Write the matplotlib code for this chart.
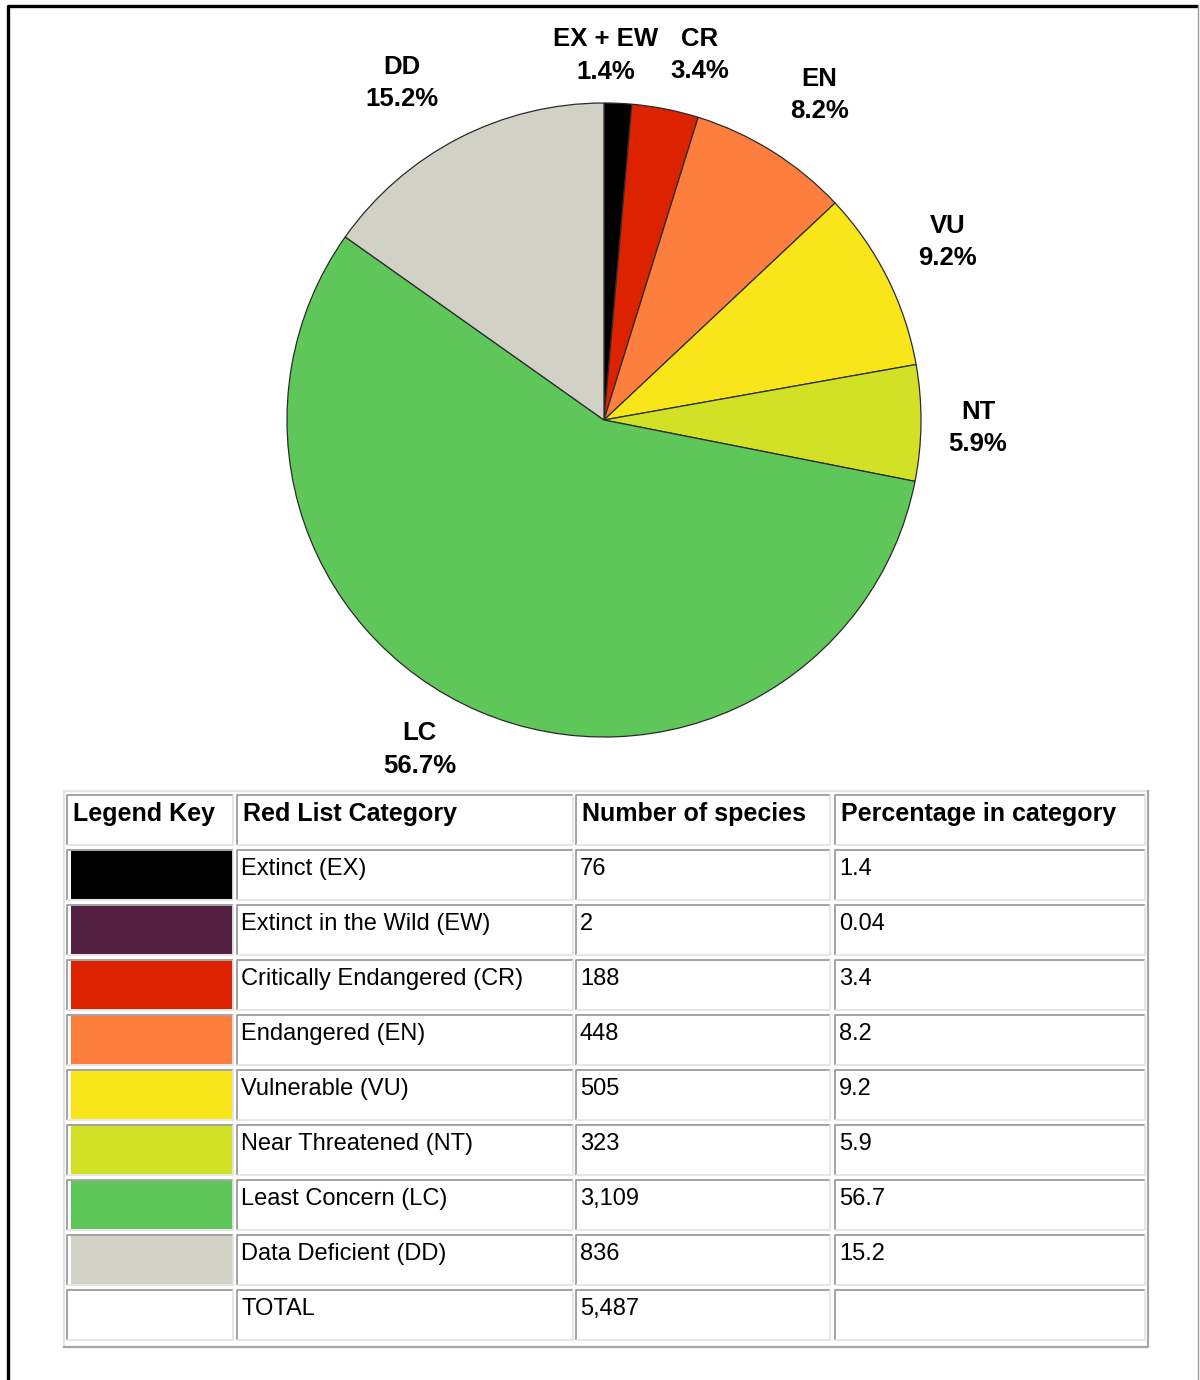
import matplotlib
matplotlib.use("Agg")
import numpy as np
import matplotlib.pyplot as plt
from matplotlib.patches import Rectangle

plt.rcParams['font.family'] = ['Liberation Sans', 'DejaVu Sans']

# pie slices (percent of assessed species)
pie_labels = ["EX + EW", "CR", "EN", "VU", "NT", "LC", "DD"]
pie_values = [1.4, 3.4, 8.2, 9.2, 5.9, 56.7, 15.2]
pie_colors = ["#000000", "#dc2200", "#fe7f3d", "#f8e61b", "#d1e226", "#5fc65a", "#d1d1c6"]

# table rows
categories = ["Extinct (EX)", "Extinct in the Wild (EW)", "Critically Endangered (CR)",
              "Endangered (EN)", "Vulnerable (VU)", "Near Threatened (NT)",
              "Least Concern (LC)", "Data Deficient (DD)"]
species_counts = [76, 2, 188, 448, 505, 323, 3109, 836]
category_pct = ["1.4", "0.04", "3.4", "8.2", "9.2", "5.9", "56.7", "15.2"]
key_colors = ["#000000", "#532142", "#dc2200", "#fe7f3d", "#f8e61b", "#d1e226", "#5fc65a", "#d1d1c6"]
headers = ["Legend Key", "Red List Category", "Number of species", "Percentage in category"]

W, H = 1200, 1380
fig = plt.figure(figsize=(W / 100, H / 100), dpi=100)

# ---- pie ----
cx, cy, half = 604, 420, 400
ax = fig.add_axes([(cx - half) / W, 1 - (cy + half) / H, 2 * half / W, 2 * half / H])
R = 317
wedges, _ = ax.pie(pie_values, colors=pie_colors, radius=R, startangle=90, counterclock=False,
                   wedgeprops=dict(edgecolor="#2b2b2b", linewidth=0.9))
# pie() resets the limits, so set them afterwards (1 data unit = 1 pixel)
ax.set_xlim(-half, half)
ax.set_ylim(-half, half)
ax.axis("off")

# label radius (in pie radii) and small angular nudges so the top labels don't collide
label_r = [1.15, 1.19, 1.23, 1.22, 1.18, 1.19, 1.24]
label_shift = [2.2, -3.5, -1.5, 0.8, -0.7, -6.0, 3.6]
for w, name, val, lr, sh in zip(wedges, pie_labels, pie_values, label_r, label_shift):
    ang = np.deg2rad((w.theta1 + w.theta2) / 2 + sh)
    ax.text(lr * R * np.cos(ang), lr * R * np.sin(ang), f"{name}\n{val}%",
            ha="center", va="center", fontsize=18.5, fontweight="bold", linespacing=1.45)

# ---- table ----
tx = fig.add_axes([0, 0, 1, 1])
tx.set_xlim(0, W)
tx.set_ylim(H, 0)
tx.axis("off")

cols = [(67, 233), (237, 573), (576, 830), (835, 1145)]
row_top, row_pitch, row_h = 795, 55, 50
dark, light = "#9c9c9c", "#e4e4e4"


def cell(x0, y0, x1, y1):
    tx.plot([x0, x0, x1], [y1, y0, y0], color=dark, lw=1.3, solid_capstyle="butt")
    tx.plot([x0, x1, x1], [y1, y1, y0], color=light, lw=1.3, solid_capstyle="butt")


# outer border of the table
tx.plot([64, 64, 1148], [1347, 791, 791], color=light, lw=1.6)
tx.plot([64, 1148, 1148], [1347, 1347, 791], color="#a6a6a6", lw=1.6)

rows = [headers]
for name, n, p in zip(categories, species_counts, category_pct):
    rows.append(["", name, f"{n:,}", p])
rows.append(["", "TOTAL", f"{sum(species_counts):,}", ""])

for i, row in enumerate(rows):
    top = row_top + i * row_pitch
    for j, (x0, x1) in enumerate(cols):
        cell(x0, top, x1, top + row_h)
        if i == 0:
            tx.text(x0 + 6, top + 19, row[j], ha="left", va="center",
                    fontsize=18, fontweight="bold")
        elif row[j]:
            tx.text(x0 + 4, top + 19, row[j], ha="left", va="center", fontsize=17)
    if 1 <= i <= len(key_colors):
        tx.add_patch(Rectangle((cols[0][0] + 4, top + 1), cols[0][1] - cols[0][0] - 4, row_h - 2,
                               facecolor=key_colors[i - 1], edgecolor="none"))

# frame round the whole figure
tx.plot([8, 8, 1198], [H, 6, 6], color="black", lw=2.4, solid_capstyle="butt")
tx.plot([1198, 1198], [6, H], color="#9a9a9a", lw=1.0)

fig.savefig("out.png", dpi=100, facecolor="white")
